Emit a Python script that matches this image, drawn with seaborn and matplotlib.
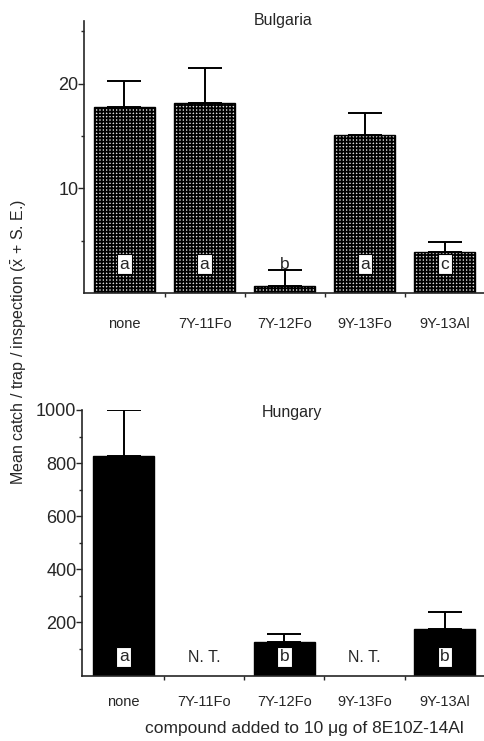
import numpy as np
import pandas as pd
import matplotlib
matplotlib.use("Agg")
import matplotlib.pyplot as plt
import seaborn as sns

categories = ["none", "7Y-11Fo", "7Y-12Fo", "9Y-13Fo", "9Y-13Al"]

bg_means = [17.8, 18.2, 0.7, 15.1, 3.9]
bg_se = [2.5, 3.3, 1.5, 2.1, 1.0]
bg_letters = ["a", "a", "b", "a", "c"]

hu_means = [828, np.nan, 127, np.nan, 174]
hu_se = [172, np.nan, 30, np.nan, 64]
hu_letters = ["a", "N. T.", "b", "N. T.", "b"]

sns.set_theme(style="ticks")
plt.rcParams["font.family"] = ["Liberation Sans", "DejaVu Sans"]
plt.rcParams["mathtext.fontset"] = "custom"
plt.rcParams["mathtext.rm"] = "Liberation Sans"
plt.rcParams["mathtext.it"] = "Liberation Sans:italic"
plt.rcParams["hatch.linewidth"] = 1.3

W, H = 485, 741
fig = plt.figure(figsize=(W / 100, H / 100), dpi=100)

def pos(left_px, right_px, top_px, bottom_px):
    return [left_px / W, 1 - bottom_px / H, (right_px - left_px) / W, (bottom_px - top_px) / H]

ax1 = fig.add_axes(pos(84, 485, 21, 293))
ax2 = fig.add_axes(pos(82, 485, 410, 675.5))

df1 = pd.DataFrame({"cat": categories, "val": bg_means})
df2 = pd.DataFrame({"cat": categories, "val": hu_means})

sns.barplot(data=df1, x="cat", y="val", order=categories, ax=ax1,
            color="#dcdcdc", edgecolor="black", linewidth=1.0, width=0.76,
            errorbar=None, saturation=1)
for p in ax1.patches:
    p.set_hatch("+" * 5)

sns.barplot(data=df2, x="cat", y="val", order=categories, ax=ax2,
            color="black", edgecolor="black", linewidth=1.0, width=0.76,
            errorbar=None, saturation=1)

x = np.arange(len(categories))
ax1.errorbar(x, bg_means, yerr=[np.zeros(len(bg_se)), bg_se], fmt="none",
             ecolor="black", elinewidth=1.4, capsize=12, capthick=1.4, zorder=1)
hm = np.array(hu_means, dtype=float)
hs = np.array(hu_se, dtype=float)
ax2.errorbar(x, hm, yerr=[np.zeros(len(hs)), hs], fmt="none",
             ecolor="black", elinewidth=1.4, capsize=12, capthick=1.4, zorder=1)

box = dict(boxstyle="square,pad=0.14", facecolor="white", edgecolor="black", linewidth=0.8)
for i, lab in enumerate(bg_letters):
    if bg_means[i] > 2.75:
        ax1.text(i, 2.75, lab, ha="center", va="center", fontsize=12.5, bbox=box, zorder=5)
    else:
        ax1.text(i, 2.75, lab, ha="center", va="center", fontsize=12.5, zorder=5)
for i, lab in enumerate(hu_letters):
    if lab == "N. T.":
        ax2.text(i, 68, lab, ha="center", va="center", fontsize=11.5, zorder=5)
    else:
        ax2.text(i, 70, lab, ha="center", va="center", fontsize=12.5, bbox=box, zorder=5)

ax1.set_ylim(0, 26)
ax1.set_yticks([10, 20])
ax1.set_yticks([5, 15, 25], minor=True)
ax2.set_ylim(0, 1000)
ax2.set_yticks([200, 400, 600, 800, 1000])
ax2.set_yticks([100, 300, 500, 700, 900], minor=True)

ax1.set_xlim(-0.505, 4.445)
ax2.set_xlim(-0.52, 4.45)

for ax, xpad in ((ax1, 17), (ax2, 14)):
    ax.set_xlabel("")
    ax.set_ylabel("")
    ax.spines["top"].set_visible(False)
    ax.spines["right"].set_visible(False)
    ax.spines["left"].set_linewidth(1.2)
    ax.spines["bottom"].set_linewidth(1.2)
    ax.set_xticks(np.arange(len(categories)) + 0.5, minor=True)
    ax.tick_params(axis="x", which="major", length=0, labelsize=10.5, pad=xpad)
    ax.tick_params(axis="x", which="minor", length=3, width=1.0)
    ax.tick_params(axis="y", which="major", length=4, width=1.0, labelsize=13, pad=0)
    ax.tick_params(axis="y", which="minor", length=2, width=1.0)
    ax.set_xticks(np.arange(len(categories)))
    ax.set_xticklabels(categories)

ax1.set_title("Bulgaria", fontsize=11.5, pad=0, x=(283 - 84) / (485 - 84), y=1.0, va="center")
ax2.set_title("Hungary", fontsize=11.5, x=(292 - 82) / (485 - 82), y=1.0, va="center", pad=-2)

fig.text(19 / W, 1 - 342 / H, r"Mean catch / trap / inspection ($\bar{\mathrm{x}}$ + S. E.)",
         rotation=90, ha="center", va="center", fontsize=11.5)
fig.text(304 / W, 1 - 729 / H, "compound added to 10 μg of 8E10Z-14Al",
         ha="center", va="center", fontsize=12.5)

fig.savefig("out.png", dpi=100)
